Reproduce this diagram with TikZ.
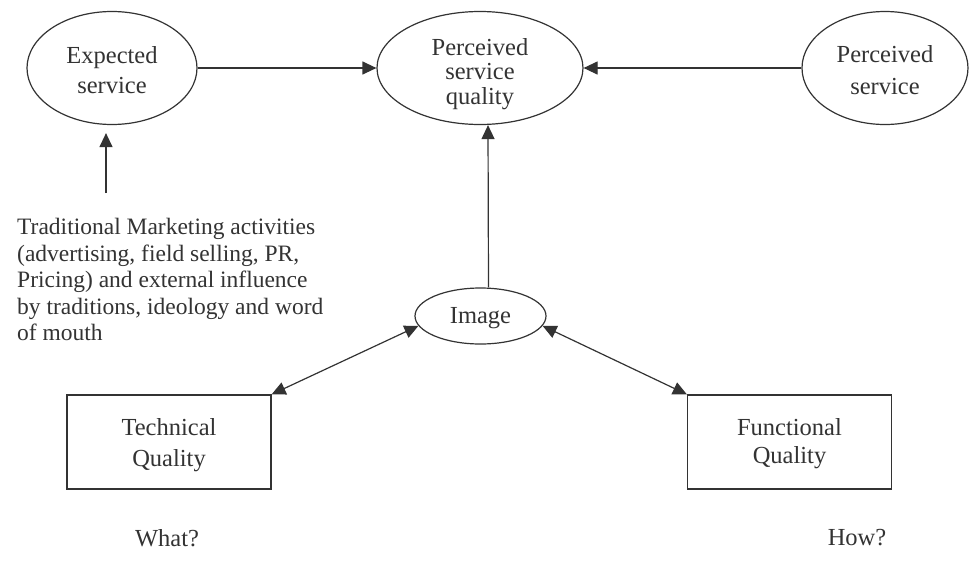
\documentclass[tikz,border=0pt]{standalone}
\usepackage{fontspec}
\setmainfont{Liberation Serif}
\usetikzlibrary{shapes.geometric,arrows.meta}
\definecolor{linec}{HTML}{333333}
\definecolor{txtc}{HTML}{333333}
\newcommand\lowtext[2]{\raisebox{-#1}[\height][\depth]{\begin{tabular}{@{}c@{}}#2\end{tabular}}}
\begin{document}
\begin{tikzpicture}[x=1pt,y=-1pt,
  basefont/.style={text=txtc,font=\fontsize{24.5}{29}\selectfont},
  ell/.style={ellipse,draw=linec,line width=1.2pt,inner sep=0pt,basefont},
  qbox/.style={rectangle,draw=linec,line width=1.2pt,inner sep=0pt,basefont,minimum width=204pt,minimum height=94pt},
  arr/.style={draw=linec,line width=1.2pt,-{Triangle[length=14pt,width=13pt]}},
  darr/.style={draw=linec,line width=1.2pt,{Triangle[length=14pt,width=13pt]}-{Triangle[length=14pt,width=13pt]}},
  lbl/.style={basefont}]
\useasboundingbox[fill=white] (0,0) rectangle (970,563);

\node[ell,minimum width=170pt,minimum height=113pt,font=\fontsize{24.5}{30}\selectfont] (exp) at (112,68) {\lowtext{4.5pt}{Expected\\service}};
\node[ell,minimum width=206pt,minimum height=113pt,font=\fontsize{24.5}{24.5}\selectfont] (psq) at (480,68) {\lowtext{7pt}{Perceived\\service\\quality}};
\node[ell,minimum width=166pt,minimum height=113pt,font=\fontsize{24.5}{32}\selectfont] (ps) at (885,68) {\lowtext{4pt}{Perceived\\service}};
\node[ell,minimum width=131pt,minimum height=56pt] (img) at (480.5,316) {\lowtext{1.5pt}{Image}};

\node[qbox,font=\fontsize{24.5}{31}\selectfont] (tech) at (169,442) {\lowtext{3pt}{Technical\\Quality}};
\node[qbox,font=\fontsize{24.5}{28.5}\selectfont] (func) at (789.5,442) {\lowtext{2pt}{Functional\\Quality}};

\node[lbl,anchor=north west,inner sep=0pt,align=left,font=\fontsize{23.5}{26.5}\selectfont] (trad) at (17,218)
  {Traditional Marketing activities\\(advertising, field selling, PR,\\Pricing) and external influence\\by traditions, ideology and word\\of mouth};

\node[lbl] (what) at (167,538) {What?};
\node[lbl] (how) at (857,538) {How?};

\coordinate (tradtop) at (106,193);

\draw[arr,shorten >=8pt] (tradtop) -- (tradtop |- exp.south);
\draw[arr] (exp.east) -- (psq.west);
\draw[arr] (ps.west) -- (psq.east);
\draw[arr] ([xshift=8pt]img.north) -- ([xshift=8pt]psq.south);
\draw[darr] (tech.north east) -- (img.189);
\draw[darr] (func.north west) -- (img.351);
\end{tikzpicture}
\end{document}
